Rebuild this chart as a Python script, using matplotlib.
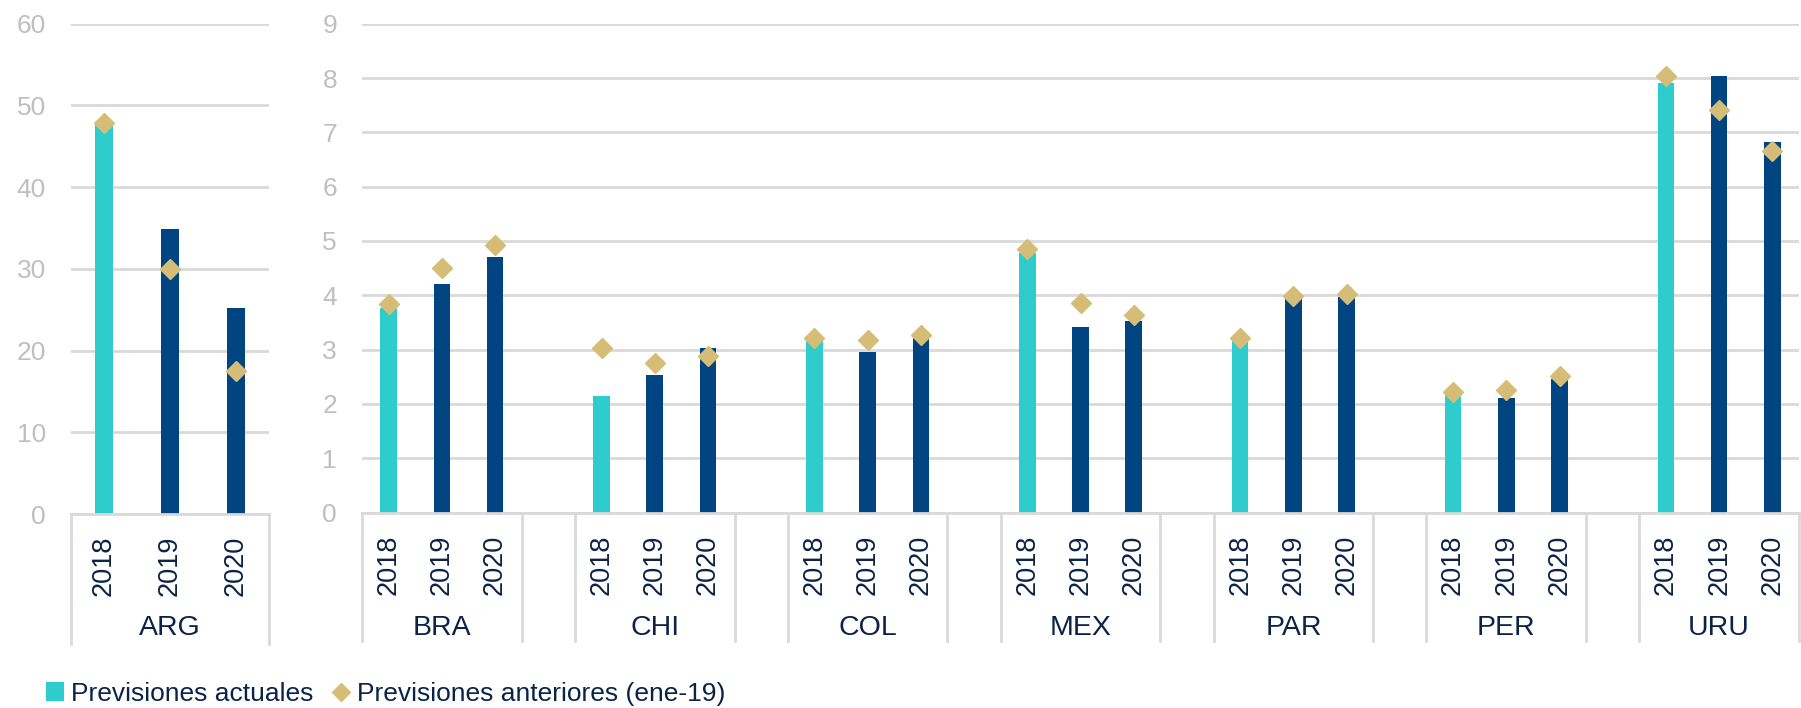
import numpy as np
import matplotlib
matplotlib.use("Agg")
import matplotlib.pyplot as plt
from matplotlib.lines import Line2D
from matplotlib.patches import Patch

plt.rcParams['font.family'] = ['Liberation Sans', 'DejaVu Sans']

# data
anios = ['2018', '2019', '2020']
arg_actual = [47.6, 34.9, 25.2]
arg_anterior = [47.8, 30.0, 17.5]

paises = ['BRA', 'CHI', 'COL', 'MEX', 'PAR', 'PER', 'URU']
actual = [[3.76, 4.20, 4.70],
          [2.15, 2.54, 3.02],
          [3.15, 2.95, 3.22],
          [4.78, 3.41, 3.52],
          [3.17, 3.93, 3.96],
          [2.17, 2.10, 2.46],
          [7.90, 8.03, 6.82]]
anterior = [[3.83, 4.51, 4.93],
            [3.03, 2.76, 2.88],
            [3.22, 3.18, 3.26],
            [4.85, 3.86, 3.64],
            [3.22, 3.98, 4.02],
            [2.21, 2.26, 2.51],
            [8.03, 7.42, 6.66]]

# colours
TEAL = '#2ECCCC'
NAVY = '#004481'
GOLD = '#D6BD77'
TXT = '#0A2347'
GRID = '#D9D9D9'
YLAB = '#BFBFBF'

bar_colors = [TEAL, NAVY, NAVY]

fig = plt.figure(figsize=(18.01, 7.08), dpi=100)
ax1 = fig.add_axes([71/1801, (708-514)/708, 198/1801, (514-23.7)/708])
ax2 = fig.add_axes([362/1801, (708-512.5)/708, 1437/1801, (512.5-23.7)/708])


def style_axis(ax, ymax, step):
    ax.set_ylim(0, ymax)
    ax.set_yticks(np.arange(0, ymax + step/2, step))
    ax.yaxis.grid(True, color=GRID, linewidth=2)
    ax.set_axisbelow(True)
    for s in ['top', 'right', 'left']:
        ax.spines[s].set_visible(False)
    ax.spines['bottom'].set_color(GRID)
    ax.spines['bottom'].set_linewidth(2)
    ax.tick_params(axis='y', length=0, pad=18, labelsize=19, labelcolor=YLAB)
    ax.set_xticks([])


def category_axis(ax, positions, labels, groups, seps, depth, ylab_year, ylab_group):
    tr = ax.get_xaxis_transform()
    for x, lab in zip(positions, labels):
        ax.text(x, ylab_year, lab, transform=tr, rotation=90, ha='center', va='center',
                fontsize=19.5, color=TXT)
    for x, g in groups:
        ax.text(x, ylab_group, g, transform=tr, ha='center', va='center',
                fontsize=20.5, color=TXT)
    for s in seps:
        ax.plot([s, s], [0, -depth], transform=tr, color=GRID, linewidth=2, clip_on=False)


# left panel: ARG
x_arg = np.arange(3)
style_axis(ax1, 60, 10)
ax1.set_xlim(-0.5, 2.5)
ax1.bar(x_arg, arg_actual, width=0.26, color=bar_colors)
ax1.plot(x_arg, arg_anterior, linestyle='none', marker='D', markersize=10, color=GOLD)
category_axis(ax1, x_arg, anios, [(1, 'ARG')], [-0.5, 2.5], 0.265, -0.105, -0.233)

# right panel: other countries, with an empty slot between groups
style_axis(ax2, 9, 1)
ax2.set_xlim(-0.5, 26.5)
pos_all, lab_all, grp, seps = [], [], [], []
for i, p in enumerate(paises):
    start = i * 4
    xs = np.arange(start, start + 3)
    ax2.bar(xs, actual[i], width=0.31, color=bar_colors)
    ax2.plot(xs, anterior[i], linestyle='none', marker='D', markersize=10, color=GOLD)
    pos_all.extend(xs)
    lab_all.extend(anios)
    grp.append((start + 1, p))
    seps.extend([start - 0.5, start + 2.5])
category_axis(ax2, pos_all, lab_all, grp, seps, 0.262, -0.108, -0.236)

# legend
handles = [Patch(facecolor=TEAL, edgecolor='none'),
           Line2D([], [], linestyle='none', marker='D', markersize=9, color=GOLD)]
fig.legend(handles, ['Previsiones actuales', 'Previsiones anteriores (ene-19)'],
           loc='center left', bbox_to_anchor=(0.018, 0.02), ncol=2, frameon=False,
           fontsize=19, handlelength=0.7, handleheight=0.7, handletextpad=0.25,
           columnspacing=0.7, labelcolor=TXT, borderpad=0)

fig.savefig('out.png', dpi=100)
